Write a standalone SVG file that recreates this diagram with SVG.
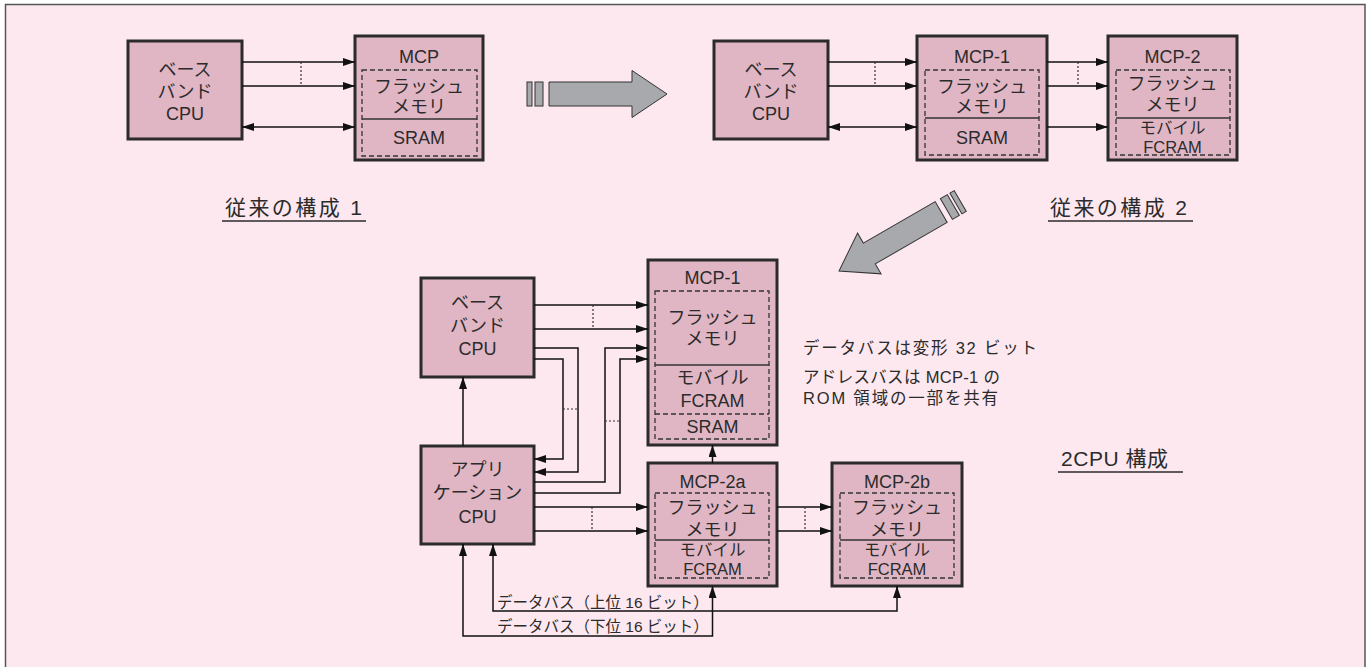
<svg xmlns="http://www.w3.org/2000/svg" width="1367" height="667" viewBox="0 0 1367 667">
<defs>
<style>
.bg{fill:#fde8f0;stroke:#555;stroke-width:1.5}
.box{fill:#e0b6c4;stroke:#2b2b2b;stroke-width:3}
.dash{fill:none;stroke:#333;stroke-width:1.3;stroke-dasharray:5,3}
.div{stroke:#333;stroke-width:1.5}
.ddiv{stroke:#333;stroke-width:1.3;stroke-dasharray:5,3}
.t{font-family:"Liberation Sans","Noto Sans CJK JP",sans-serif;font-size:18px;fill:#2b2b2b;text-anchor:middle}
.tm{font-family:"Liberation Sans","Noto Sans CJK JP",sans-serif;font-size:16.5px;fill:#2b2b2b;text-anchor:middle}
.ts{font-family:"Liberation Sans","Noto Sans CJK JP",sans-serif;font-size:16.5px;fill:#2b2b2b}
.tb{font-family:"Liberation Sans","Noto Sans CJK JP",sans-serif;font-size:15.5px;fill:#2b2b2b}
.tl{font-family:"Liberation Sans","Noto Sans CJK JP",sans-serif;font-size:21px;fill:#2b2b2b}
.ln{fill:none;stroke:#111;stroke-width:1.5}
.a{fill:none;stroke:#111;stroke-width:1.5;marker-end:url(#ah)}
.ab{fill:none;stroke:#111;stroke-width:1.5;marker-end:url(#ah);marker-start:url(#ah)}
.dot{stroke:#333;stroke-width:1.2;stroke-dasharray:2,2}
.ul{stroke:#2b2b2b;stroke-width:1.5}
.big{fill:#a7a9ac;stroke:#333;stroke-width:1}
</style>
<marker id="ah" markerUnits="userSpaceOnUse" markerWidth="12" markerHeight="8" refX="12" refY="4" orient="auto-start-reverse">
<path d="M0,0 L12,4 L0,8 Z" fill="#111"/>
</marker>
<g id="bigarrow">
<path class="big" d="M-118,-12 L-35,-12 L-35,-23.5 L0,0 L-35,23.5 L-35,12 L-118,12 Z"/>
<rect class="big" x="-140" y="-12" width="5" height="24"/>
<rect class="big" x="-132" y="-12" width="8" height="24"/>
</g>
</defs>
<rect class="bg" x="5.5" y="4.5" width="1359.5" height="680"/>

<!-- Config 1 -->
<g id="bb1">
<rect class="box" x="128" y="41" width="114" height="98"/>
<text class="t" x="185" y="76">ベース</text>
<text class="t" x="185" y="98">バンド</text>
<text class="t" x="185" y="120">CPU</text>
</g>
<g id="mcp1a">
<rect class="box" x="355" y="36" width="128" height="124"/>
<rect class="dash" x="362" y="70" width="115" height="86"/>
<line class="div" x1="362" y1="119" x2="477" y2="119"/>
<text class="t" x="419" y="63">MCP</text>
<text class="t" x="419" y="93">フラッシュ</text>
<text class="t" x="419" y="113">メモリ</text>
<text class="t" x="419" y="144">SRAM</text>
</g>
<g id="label1">
<text class="tl" x="225" y="215" textLength="137" lengthAdjust="spacing">従来の構成 1</text>
<line class="ul" x1="222" y1="221" x2="366" y2="221"/>
</g>

<!-- Config 2 -->
<g id="bb2">
<rect class="box" x="714" y="41" width="114" height="98"/>
<text class="t" x="771" y="76">ベース</text>
<text class="t" x="771" y="98">バンド</text>
<text class="t" x="771" y="120">CPU</text>
</g>
<g id="mcp1b">
<rect class="box" x="917" y="36" width="130" height="124"/>
<rect class="dash" x="925" y="70" width="114" height="85"/>
<line class="div" x1="925" y1="118" x2="1039" y2="118"/>
<text class="t" x="982" y="63">MCP-1</text>
<text class="t" x="982" y="93">フラッシュ</text>
<text class="t" x="982" y="113">メモリ</text>
<text class="t" x="982" y="144">SRAM</text>
</g>
<g id="mcp2">
<rect class="box" x="1108" y="36" width="129" height="124"/>
<rect class="dash" x="1116" y="70" width="114" height="85"/>
<line class="div" x1="1116" y1="118" x2="1230" y2="118"/>
<text class="t" x="1172.5" y="63">MCP-2</text>
<text class="t" x="1172.5" y="90">フラッシュ</text>
<text class="t" x="1172.5" y="111">メモリ</text>
<text class="tm" x="1172.5" y="134">モバイル</text>
<text class="tm" x="1172.5" y="153">FCRAM</text>
</g>
<g id="label2">
<text class="tl" x="1050" y="215" textLength="137" lengthAdjust="spacing">従来の構成 2</text>
<line class="ul" x1="1048" y1="221" x2="1193" y2="221"/>
</g>

<!-- Config 3 -->
<g id="bb3">
<rect class="box" x="421" y="278" width="113" height="99"/>
<text class="t" x="477.5" y="309">ベース</text>
<text class="t" x="477.5" y="332">バンド</text>
<text class="t" x="477.5" y="355">CPU</text>
</g>
<g id="mcp1c">
<rect class="box" x="648" y="260" width="129" height="185"/>
<rect class="dash" x="655" y="291" width="114" height="148"/>
<line class="div" x1="655" y1="365" x2="769" y2="365"/>
<line class="ddiv" x1="655" y1="414" x2="769" y2="414"/>
<text class="t" x="712.5" y="284">MCP-1</text>
<text class="t" x="712.5" y="324">フラッシュ</text>
<text class="t" x="712.5" y="345">メモリ</text>
<text class="t" x="712.5" y="384">モバイル</text>
<text class="t" x="712.5" y="407">FCRAM</text>
<text class="t" x="712.5" y="433">SRAM</text>
</g>
<g id="app">
<rect class="box" x="421" y="446" width="113" height="98"/>
<text class="t" x="477.5" y="476">アプリ</text>
<text class="t" x="477.5" y="499">ケーション</text>
<text class="t" x="477.5" y="523">CPU</text>
</g>
<g id="mcp2a">
<rect class="box" x="648" y="463" width="129" height="123"/>
<rect class="dash" x="655" y="493" width="114" height="85"/>
<line class="div" x1="655" y1="540" x2="769" y2="540"/>
<text class="t" x="712.5" y="488">MCP-2a</text>
<text class="t" x="712.5" y="514">フラッシュ</text>
<text class="t" x="712.5" y="536">メモリ</text>
<text class="tm" x="712.5" y="556">モバイル</text>
<text class="tm" x="712.5" y="575">FCRAM</text>
</g>
<g id="mcp2b">
<rect class="box" x="832" y="463" width="130" height="123"/>
<rect class="dash" x="840" y="493" width="114" height="85"/>
<line class="div" x1="840" y1="540" x2="954" y2="540"/>
<text class="t" x="897" y="488">MCP-2b</text>
<text class="t" x="897" y="514">フラッシュ</text>
<text class="t" x="897" y="536">メモリ</text>
<text class="tm" x="897" y="556">モバイル</text>
<text class="tm" x="897" y="575">FCRAM</text>
</g>
<g id="note">
<text class="ts" x="803" y="354" textLength="234" lengthAdjust="spacing">データバスは変形 32 ビット</text>
<text class="ts" x="803" y="383" textLength="197" lengthAdjust="spacing">アドレスバスは MCP-1 の</text>
<text class="ts" x="803" y="404" textLength="195" lengthAdjust="spacing">ROM 領域の一部を共有</text>
</g>
<g id="label3">
<text class="tl" x="1061" y="466" textLength="107" lengthAdjust="spacing">2CPU 構成</text>
<line class="ul" x1="1058" y1="472" x2="1183" y2="472"/>
</g>

<!-- Big arrows -->
<g id="arrowA"><use href="#bigarrow" transform="translate(667,94)"/></g>
<g id="arrowB"><use href="#bigarrow" transform="translate(839,271) rotate(150)"/></g>

<!-- Connectors -->
<g id="connectors">
<path class="a" d="M242,62 H355"/>
<path class="a" d="M242,86 H355"/>
<path class="ab" d="M242,127 H355"/>
<line class="dot" x1="301" y1="62" x2="301" y2="86"/>
<path class="a" d="M828,62 H917"/>
<path class="a" d="M828,86 H917"/>
<path class="ab" d="M828,127 H917"/>
<line class="dot" x1="875" y1="62" x2="875" y2="86"/>
<path class="a" d="M1047,62 H1108"/>
<path class="a" d="M1047,86 H1108"/>
<path class="a" d="M1047,127 H1108"/>
<line class="dot" x1="1078" y1="62" x2="1078" y2="86"/>
<path class="a" d="M534,305 H648"/>
<path class="a" d="M534,329 H648"/>
<line class="dot" x1="593" y1="305" x2="593" y2="329"/>
<path class="a" d="M534,348 H578 V472 H534"/>
<path class="a" d="M534,359 H563 V459 H534"/>
<line class="dot" x1="563" y1="409" x2="578" y2="409"/>
<path class="a" d="M534,482 H605 V348 H648"/>
<path class="a" d="M534,493 H620 V359 H648"/>
<line class="dot" x1="605" y1="421" x2="620" y2="421"/>
<path class="a" d="M463,446 V377"/>
<path class="a" d="M712.5,463 V445"/>
<path class="a" d="M534,507 H648"/>
<path class="a" d="M534,531 H648"/>
<line class="dot" x1="592" y1="507" x2="592" y2="531"/>
<path class="a" d="M777,507 H832"/>
<path class="a" d="M777,531 H832"/>
<line class="dot" x1="805" y1="507" x2="805" y2="531"/>
<path class="ab" d="M493,544 V611 H897 V586"/>
<path class="ab" d="M463,544 V636 H712.5 V586"/>
</g>
<g id="buslabels">
<text class="tb" x="497" y="608">データバス（上位 16 ビット）</text>
<text class="tb" x="497" y="632">データバス（下位 16 ビット）</text>
</g>
</svg>
